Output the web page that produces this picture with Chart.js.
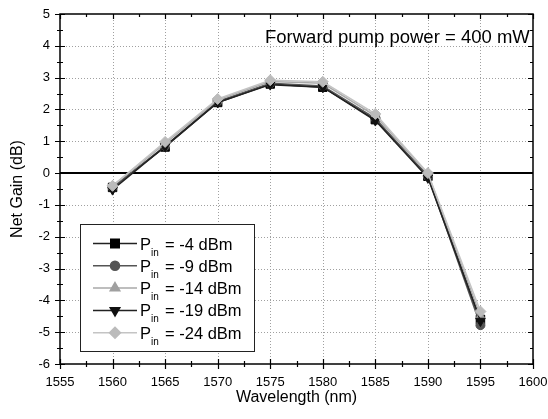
<!DOCTYPE html>
<html>
<head>
<meta charset="utf-8">
<script src="https://cdn.jsdelivr.net/npm/chart.js"></script>
<style>
  body { margin: 0; background: #fff; }
  canvas { display: block; }
</style>
</head>
<body>
<canvas id="gain" width="548" height="419"></canvas>
<script>
// wavelengths (nm) and net gain (dB) for each input power
const wavelengths = [1560, 1565, 1570, 1575, 1580, 1585, 1590, 1595];
const gainM4  = [-0.45, 0.82, 2.22, 2.80, 2.70, 1.68, -0.10, -4.60];
const gainM9  = [-0.45, 0.85, 2.25, 2.82, 2.74, 1.72, -0.10, -4.78];
const gainM14 = [-0.40, 0.93, 2.30, 2.88, 2.82, 1.80, -0.02, -4.50];
const gainM19 = [-0.52, 0.84, 2.22, 2.78, 2.70, 1.65, -0.15, -4.65];
const gainM24 = [-0.40, 0.98, 2.33, 2.92, 2.87, 1.86, 0.00, -4.35];
const powerLabels = ['-4 dBm', '-9 dBm', '-14 dBm', '-19 dBm', '-24 dBm'];
const xTicks = [1555, 1600, 5];
const yTicks = [-6, 5, 1];

const FONT = 'Arial, "Liberation Sans", sans-serif';

const series = [
  { data: gainM4,  line: '#222', fill: '#000', style: 'rect', radius: 6, rot: 0 },
  { data: gainM9,  line: '#555', fill: '#555', style: 'circle', radius: 4.5, rot: 0 },
  { data: gainM14, line: '#a8a8a8', fill: '#a0a0a0', style: 'triangle', radius: 5.5, rot: 0 },
  { data: gainM19, line: '#222', fill: '#111', style: 'triangle', radius: 5.5, rot: 180 },
  { data: gainM24, line: '#c4c4c4', fill: '#bbb', style: 'rectRot', radius: 5.5, rot: 0 }
];

const datasets = series.map((s, i) => ({
  label: powerLabels[i],
  data: wavelengths.map((w, j) => ({ x: w, y: s.data[j] })),
  borderColor: s.line,
  borderWidth: 1.5,
  backgroundColor: s.fill,
  pointBackgroundColor: s.fill,
  pointBorderColor: s.fill,
  pointBorderWidth: 1,
  pointStyle: s.style,
  pointRadius: s.radius,
  pointRotation: s.rot,
  tension: 0,
  order: series.length - i // later series drawn on top
}));

function range(a, b, step) {
  const out = [];
  for (let v = a; v <= b + 1e-9; v += step) out.push(+v.toFixed(4));
  return out;
}

const framePlugin = {
  id: 'frame',
  beforeDatasetsDraw(chart) {
    const { ctx, chartArea: a, scales: { x, y } } = chart;
    ctx.save();
    ctx.strokeStyle = '#a0a0a0';
    ctx.lineWidth = 1;
    ctx.setLineDash([1, 2]);
    range(xTicks[0] + xTicks[2], xTicks[1] - xTicks[2], xTicks[2]).forEach(v => {
      const px = Math.round(x.getPixelForValue(v)) + 0.5;
      ctx.beginPath(); ctx.moveTo(px, a.top); ctx.lineTo(px, a.bottom); ctx.stroke();
    });
    range(yTicks[0] + 1, yTicks[1] - 1, yTicks[2]).forEach(v => {
      if (v === 0) return;
      const py = Math.round(y.getPixelForValue(v)) + 0.5;
      ctx.beginPath(); ctx.moveTo(a.left, py); ctx.lineTo(a.right, py); ctx.stroke();
    });
    ctx.setLineDash([]);
    // zero line
    ctx.strokeStyle = '#000';
    ctx.lineWidth = 2;
    const z = Math.round(y.getPixelForValue(0));
    ctx.beginPath(); ctx.moveTo(a.left, z); ctx.lineTo(a.right, z); ctx.stroke();
    ctx.restore();
  },
  afterDraw(chart) {
    const { ctx, chartArea: a, scales: { x, y } } = chart;
    ctx.save();
    ctx.strokeStyle = '#000';
    ctx.lineWidth = 1.5;
    ctx.strokeRect(a.left, a.top, a.right - a.left, a.bottom - a.top);

    // ticks: in & out on left/bottom, inward on top/right
    ctx.lineWidth = 1.2;
    range(xTicks[0], xTicks[1], xTicks[2] / 2).forEach((v, i) => {
      const px = Math.round(x.getPixelForValue(v)) + 0.5;
      const len = i % 2 === 0 ? 5 : 3;
      ctx.beginPath();
      ctx.moveTo(px, a.bottom - len); ctx.lineTo(px, a.bottom + len);
      ctx.moveTo(px, a.top); ctx.lineTo(px, a.top + len);
      ctx.stroke();
    });
    range(yTicks[0], yTicks[1], yTicks[2] / 2).forEach((v, i) => {
      const py = Math.round(y.getPixelForValue(v)) + 0.5;
      const len = i % 2 === 0 ? 5 : 3;
      ctx.beginPath();
      ctx.moveTo(a.left - len, py); ctx.lineTo(a.left + len, py);
      ctx.moveTo(a.right, py); ctx.lineTo(a.right - len, py);
      ctx.stroke();
    });

    // axis titles
    ctx.fillStyle = '#000';
    ctx.font = '16px ' + FONT;
    ctx.textAlign = 'center';
    ctx.textBaseline = 'middle';
    ctx.fillText('Wavelength (nm)', (a.left + a.right) / 2, 398);
    ctx.save();
    ctx.translate(18, (a.top + a.bottom) / 2);
    ctx.rotate(-Math.PI / 2);
    ctx.fillText('Net Gain (dB)', 0, 0);
    ctx.restore();

    // annotation
    ctx.font = '18.5px ' + FONT;
    ctx.textAlign = 'left';
    ctx.textBaseline = 'alphabetic';
    ctx.fillText('Forward pump power = 400 mW', 265, 43);

    // legend
    const bx = 80.5, by = 224.5, bw = 174, bh = 127;
    ctx.fillStyle = '#fff';
    ctx.fillRect(bx, by, bw, bh);
    ctx.strokeStyle = '#222';
    ctx.lineWidth = 1;
    ctx.strokeRect(bx, by, bw, bh);
    chart.data.datasets.forEach((ds, i) => {
      const cy = 243.5 + i * 22.3;
      ctx.strokeStyle = ds.borderColor;
      ctx.lineWidth = 1.5;
      ctx.beginPath(); ctx.moveTo(93, cy); ctx.lineTo(137, cy); ctx.stroke();
      ctx.fillStyle = ds.pointBackgroundColor;
      ctx.strokeStyle = ds.pointBorderColor;
      Chart.helpers.drawPoint(ctx, {
        pointStyle: ds.pointStyle, radius: ds.pointRadius,
        rotation: ds.pointRotation, borderWidth: 1
      }, 115, cy);
      ctx.fillStyle = '#000';
      ctx.textBaseline = 'alphabetic';
      ctx.font = '16.5px ' + FONT;
      ctx.fillText('P', 140, cy + 6);
      ctx.font = '10px ' + FONT;
      ctx.fillText('in', 151, cy + 12);
      ctx.font = '16.5px ' + FONT;
      ctx.fillText('= ' + ds.label, 165, cy + 6);
    });
    ctx.restore();
  }
};

const tickFont = { family: FONT, size: 13 };

new Chart(document.getElementById('gain'), {
  type: 'line',
  data: { datasets },
  options: {
    responsive: false,
    animation: false,
    layout: { padding: { top: 14, right: 15, left: 0, bottom: 0 } },
    plugins: { legend: { display: false }, tooltip: { enabled: false } },
    scales: {
      x: {
        type: 'linear',
        min: xTicks[0], max: xTicks[1],
        ticks: { stepSize: xTicks[2], color: '#000', font: tickFont, padding: 11, maxRotation: 0,
                 callback: v => String(v) },
        grid: { display: false, drawTicks: false },
        border: { display: false },
        afterFit: s => { s.height = 55; s.paddingLeft = 0; s.paddingRight = 0; }
      },
      y: {
        min: yTicks[0], max: yTicks[1],
        ticks: { stepSize: yTicks[2], color: '#000', font: tickFont, padding: 10 },
        grid: { display: false, drawTicks: false },
        border: { display: false },
        afterFit: s => { s.width = 60; s.paddingTop = 0; s.paddingBottom = 0; }
      }
    }
  },
  plugins: [framePlugin]
});
</script>
</body>
</html>
